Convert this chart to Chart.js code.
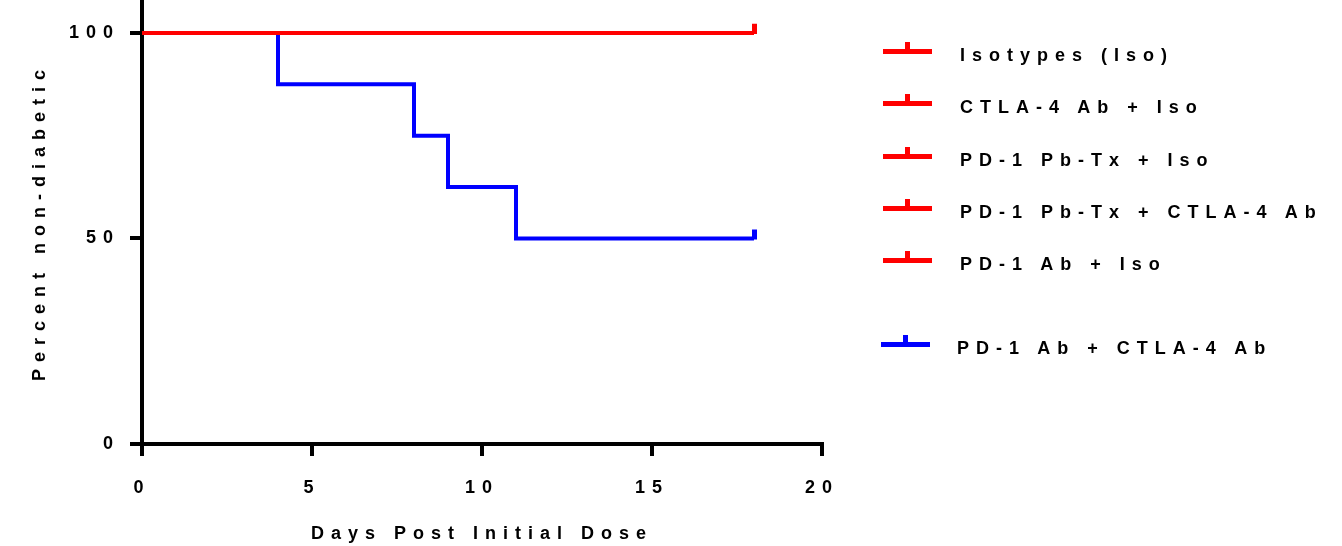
<!DOCTYPE html>
<html>
<head>
<meta charset="utf-8">
<script src="https://cdn.jsdelivr.net/npm/chart.js@4"></script>
<style>
  body { margin: 0; background: #fff; }
  #wrap { position: relative; width: 1342px; height: 546px; overflow: hidden; }
  #myChart { position: absolute; left: 0; top: 0; }
  .lg-line, .lg-tick { position: absolute; }
  .lg-text {
    position: absolute; height: 22px; line-height: 22px; white-space: nowrap;
    font: bold 18px Arial, "Liberation Sans", sans-serif; letter-spacing: 7px; color: #000;
  }
</style>
</head>
<body>
<div id="wrap">
  <canvas id="myChart" width="1342" height="546"></canvas>
  <div id="legend"></div>
</div>
<script>
// Data

const seriesNames = ['Isotypes (Iso)', 'CTLA-4 Ab + Iso', 'PD-1 Pb-Tx + Iso',
  'PD-1 Pb-Tx + CTLA-4 Ab', 'PD-1 Ab + Iso', 'PD-1 Ab + CTLA-4 Ab'];
const seriesColors = ['#ff0000', '#ff0000', '#ff0000', '#ff0000', '#ff0000', '#0000ff'];

const controlDays = [0, 18];
const isoPct = [100, 100];
const ctlaIsoPct = [100, 100];
const pbtxIsoPct = [100, 100];
const pbtxCtlaPct = [100, 100];
const pd1IsoPct = [100, 100];

const comboDays = [0, 4, 8, 9, 11, 18];
const comboPct = [100, 87.5, 75, 62.5, 50, 50];

const xTicks = [0, 5, 10, 15, 20];
const yTicks = [0, 50, 100];

// Legend (html)

const legendRows = [51.5, 103.5, 156, 208, 260, 344];
const legendBox = document.getElementById('legend');
seriesNames.forEach((name, i) => {
  const cy = legendRows[i];
  const x0 = i === 5 ? 881 : 883;
  const line = document.createElement('div');
  line.className = 'lg-line';
  line.style.cssText = `left:${x0}px;top:${cy - 2.5}px;width:49px;height:5px;background:${seriesColors[i]}`;
  const tick = document.createElement('div');
  tick.className = 'lg-tick';
  tick.style.cssText = `left:${x0 + 22}px;top:${cy - 9.5}px;width:5px;height:7px;background:${seriesColors[i]}`;
  const txt = document.createElement('div');
  txt.className = 'lg-text';
  txt.style.left = (i === 5 ? 957 : 960) + 'px';
  txt.style.top = (cy - 6.5) + 'px';
  txt.textContent = name;
  legendBox.append(line, tick, txt);
});

// Chart

function tickMark(color) {
  const c = document.createElement('canvas');
  c.width = 5; c.height = 22;
  const g = c.getContext('2d');
  g.fillStyle = color;
  g.fillRect(0, 2, 5, 10);
  return c;
}

function series(label, xs, ys, color) {
  const mark = tickMark(color);
  const last = xs.length - 1;
  return {
    label: label,
    data: xs.map((x, i) => ({ x: x, y: ys[i] })),
    borderColor: color,
    backgroundColor: color,
    borderWidth: 4,
    stepped: 'before',
    fill: false,
    pointStyle: c => c.dataIndex === last ? mark : 'circle',
    pointRadius: c => c.dataIndex === last ? 3 : 0,
    pointHoverRadius: 0
  };
}

const spacing = {
  id: 'spacing',
  beforeLayout(chart) { chart.ctx.letterSpacing = '7px'; },
  beforeDraw(chart) { chart.ctx.letterSpacing = '7px'; }
};

Chart.defaults.font.family = 'Arial, "Liberation Sans", sans-serif';
Chart.defaults.font.weight = 'bold';
Chart.defaults.font.size = 18;
Chart.defaults.color = '#000';

const ctx = document.getElementById('myChart');

new Chart(ctx, {
  type: 'line',
  data: {
    datasets: [
      series(seriesNames[0], controlDays, isoPct, seriesColors[0]),
      series(seriesNames[1], controlDays, ctlaIsoPct, seriesColors[1]),
      series(seriesNames[2], controlDays, pbtxIsoPct, seriesColors[2]),
      series(seriesNames[3], controlDays, pbtxCtlaPct, seriesColors[3]),
      series(seriesNames[4], controlDays, pd1IsoPct, seriesColors[4]),
      series(seriesNames[5], comboDays, comboPct, seriesColors[5])
    ]
  },
  plugins: [spacing],
  options: {
    responsive: false,
    devicePixelRatio: 1,
    animation: false,
    layout: { autoPadding: false, padding: { left: 0, top: 0, bottom: 0, right: 520 } },
    plugins: {
      legend: { display: false },
      tooltip: { enabled: false }
    },
    scales: {
      x: {
        type: 'linear',
        min: 0,
        max: 20,
        afterBuildTicks: s => { s.ticks = xTicks.map(v => ({ value: v })); },
        afterFit: s => { s.height = 102; s.paddingLeft = 0; s.paddingRight = 0; },
        ticks: { padding: 21, maxRotation: 0 },
        grid: { drawOnChartArea: false, tickLength: 12, tickWidth: 4, tickColor: '#000', lineWidth: 4 },
        border: { color: '#000', width: 4 },
        title: { display: true, text: 'Days Post Initial Dose', padding: { top: 0, bottom: 1 } }
      },
      y: {
        min: 0,
        max: 108,
        afterBuildTicks: s => { s.ticks = yTicks.map(v => ({ value: v })); },
        afterFit: s => { s.width = 142; s.paddingTop = 0; s.paddingBottom = 0; },
        ticks: { padding: 10 },
        grid: { drawOnChartArea: false, tickLength: 12, tickWidth: 4, tickColor: '#000', lineWidth: 4 },
        border: { color: '#000', width: 4 },
        title: { display: true, text: 'Percent non-diabetic', padding: { top: 29, bottom: 0 } }
      }
    }
  }
});
</script>
</body>
</html>
